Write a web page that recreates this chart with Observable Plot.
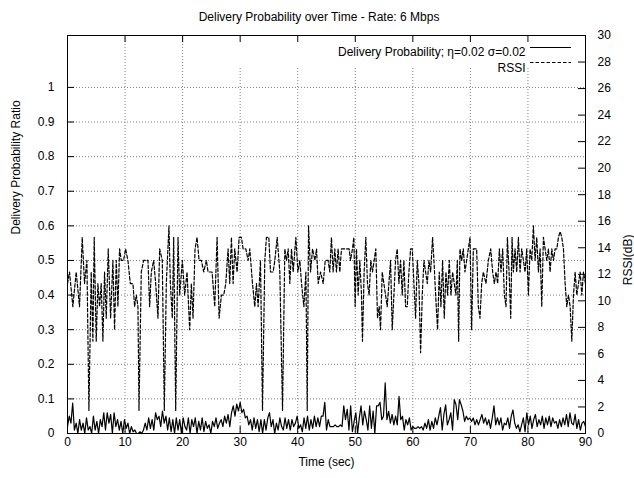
<!DOCTYPE html>
<html><head><meta charset="utf-8">
<script src="https://cdn.jsdelivr.net/npm/d3@7"></script>
<script src="https://cdn.jsdelivr.net/npm/@observablehq/plot@0.6"></script>
<style>
body{margin:0;background:#fff;}
#title{width:630px;height:18px;padding:10px 0 0 4px;font:12px "Liberation Sans",Arial,sans-serif;line-height:14px;text-align:center;color:#000;}
svg{display:block;}
</style></head><body>
<div id="title">Delivery Probability over Time - Rate: 6 Mbps</div>
<div id="chart"></div>
<script>
// ---- data ----
const xTicks = [0,10,20,30,40,50,60,70,80,90];
const yTicks = [0,0.1,0.2,0.3,0.4,0.5,0.6,0.7,0.8,0.9,1];
const yTickLabels = ["0","0.1","0.2","0.3","0.4","0.5","0.6","0.7","0.8","0.9","1"];
const y2Ticks = [0,2,4,6,8,10,12,14,16,18,20,22,24,26,28,30];
const yMax = 1.15;      // left axis top
const y2Max = 30;       // right axis top
const legendLabels = ["Delivery Probability; \u03b7=0.02 \u03c3=0.02", "RSSI"];

// Delivery probability, sampled every 0.3 s from 0 to 90 s
const probStep = 0.3;
const probability = [
0.02,0.05,0.03,0.088,0.01,0.03,0.0,0.04,0.01,0.03,
0.0,0.045,0.01,0.02,0.0,0.05,0.01,0.035,0.0,0.04,
0.02,0.06,0.01,0.06,0.03,0.055,0.0,0.06,0.02,0.04,
0.01,0.035,0.0,0.04,0.015,0.03,0.0,0.02,0.005,0.01,
0.0,0.0,0.005,0.0,0.01,0.03,0.01,0.045,0.015,0.04,
0.01,0.06,0.04,0.05,0.02,0.065,0.03,0.05,0.01,0.045,
0.005,0.04,0.0,0.045,0.01,0.04,0.0,0.045,0.02,0.01,
0.045,0.0,0.04,0.02,0.045,0.0,0.035,0.01,0.045,0.005,
0.035,0.015,0.025,0.0,0.035,0.02,0.045,0.015,0.03,0.04,
0.02,0.05,0.03,0.055,0.02,0.06,0.08,0.05,0.085,0.065,
0.09,0.06,0.07,0.045,0.05,0.025,0.04,0.01,0.045,0.015,
0.04,0.005,0.04,0.0,0.04,0.01,0.045,0.06,0.02,0.04,
0.0,0.03,0.01,0.045,0.02,0.01,0.045,0.015,0.04,0.01,
0.04,0.02,0.03,0.05,0.015,0.025,0.005,0.045,0.015,0.05,
0.01,0.04,0.015,0.05,0.02,0.045,0.02,0.05,0.05,0.09,
0.01,0.04,0.02,0.02,0.02,0.025,0.02,0.02,0.025,0.02,
0.08,0.04,0.07,0.01,0.08,0.005,0.035,0.06,0.0,0.045,
0.08,0.025,0.065,0.04,0.01,0.08,0.015,0.065,0.0,0.08,
0.08,0.09,0.04,0.05,0.146,0.04,0.064,0.03,0.055,0.025,
0.05,0.025,0.107,0.04,0.05,0.01,0.04,0.025,0.045,0.01,
0.02,0.015,0.015,0.02,0.015,0.02,0.01,0.03,0.015,0.04,
0.01,0.035,0.015,0.045,0.025,0.05,0.075,0.01,0.055,0.083,
0.025,0.04,0.06,0.01,0.098,0.083,0.04,0.098,0.083,0.065,
0.035,0.05,0.04,0.045,0.035,0.045,0.025,0.04,0.025,0.04,
0.055,0.03,0.045,0.025,0.04,0.015,0.045,0.08,0.025,0.045,
0.025,0.045,0.01,0.03,0.025,0.045,0.015,0.05,0.068,0.03,
0.015,0.025,0.005,0.025,0.045,0.005,0.06,0.025,0.05,0.015,
0.04,0.055,0.02,0.04,0.025,0.05,0.015,0.045,0.025,0.05,
0.02,0.045,0.03,0.035,0.015,0.04,0.02,0.045,0.025,0.055,
0.02,0.06,0.03,0.025,0.055,0.015,0.04,0.01,0.03,0.035,
0.02];

// RSSI samples: time (s) and level (drawn at level/30 on the left scale, as in the source)
const rssiTime = [
0,0.35,0.93,1.51,2.09,2.56,2.96,3.37,3.72,4.12,4.41,4.64,4.99,5.28,5.57,5.86,6.15,6.44,6.73,7.08,
7.49,7.89,8.18,8.47,8.76,9.05,9.34,9.75,10.09,10.5,10.91,11.37,11.66,11.95,12.24,12.42,12.82,13.23,13.52,13.98,
14.27,14.56,14.97,15.32,15.72,16.01,16.47,16.82,17.17,17.63,17.87,18.21,18.45,18.8,19.2,19.49,19.96,20.36,20.77,21.23,
21.52,21.81,22.16,22.51,22.86,23.26,23.67,24.13,24.42,24.71,25.12,25.58,25.99,26.34,26.74,27.15,27.5,27.9,28.19,28.48,
28.77,29.06,29.47,29.82,30.22,30.51,30.98,31.38,31.67,32.14,32.54,32.83,33.12,33.53,33.88,34.28,34.57,34.98,35.27,35.73,
36.02,36.43,36.89,37.36,37.76,38.05,38.34,38.63,38.92,39.21,39.68,40.03,40.37,40.66,41.07,41.42,41.65,41.88,42.23,42.58,
42.98,43.27,43.56,43.97,44.43,44.78,
45.28,45.57,45.86,46.15,46.44,46.73,47.02,47.31,47.6,47.89,48.93,49.17,49.51,49.75,49.98,50.21,50.5,50.79,51.08,51.25,
51.54,51.83,52.12,52.41,52.7,52.99,53.28,53.57,53.86,54.15,54.39,54.68,54.97,55.26,55.55,55.84,56.13,56.42,56.71,57.0,
57.29,57.58,57.87,58.16,58.45,58.74,59.03,59.32,59.61,59.9,60.19,60.48,60.77,61.06,61.35,61.64,61.93,62.22,62.51,62.8,
63.09,63.43,63.67,63.96,64.3,64.59,64.88,65.17,65.46,65.75,66.04,66.33,66.62,66.91,67.2,67.49,67.73,67.96,68.19,68.48,
68.77,69.06,69.35,69.64,69.93,70.22,70.51,70.8,71.09,71.38,71.67,71.96,72.25,72.71,73.12,73.53,73.87,74.16,74.45,74.74,
75.03,75.32,75.61,75.9,76.19,76.43,76.72,77.01,77.24,77.47,77.76,78.05,78.34,78.63,78.92,79.21,79.5,79.79,80.08,80.37,
80.66,80.95,81.24,81.53,81.82,82.11,82.4,82.69,82.98,83.27,83.56,83.85,84.14,84.43,84.72,85.01,85.3,85.59,85.88,86.17,
86.46,86.75,87.04,87.33,87.62,87.91,88.2,88.49,88.78,89.07,89.36,89.65,90];
const rssiLevel = [
13,14,11,14,11,17,13,15,2,14,8,17,8,13,11,13,8,14,10,16,
10,15,9,15,11,16,15,15,16,15,13,13,11,12,11,2,14,15,15,15,
11,14,15,13,10,16,15,2,13,18,13,10,17,2,17,12,15,12,14,9,
13,10,16,17,15,15,14,15,14,14,14,11,17,10,12,12,13,16,13,17,
13,16,14,17,17,16,16,15,16,13,11,13,11,15,2,15,17,17,14,14,
15,17,14,2,16,15,16,13,16,14,17,14,15,13,11,14,2,18,14,16,
15,16,13,14,13,15,
15,14,17,14,16,14,16,14,16,16,16,15,16,17,11,16,12,15,12,8,
14,17,13,12,15,14,15,16,10,11,9,14,13,12,11,13,15,9,12,15,
16,13,15,12,15,11,11,14,16,16,13,10,15,13,7,12,15,14,13,15,
14,17,15,12,9,14,11,15,10,14,12,15,12,14,13,12,15,8,16,15,
16,14,15,16,17,9,16,16,16,11,10,13,14,13,15,16,14,13,14,13,
16,14,16,12,11,17,14,10,17,14,16,14,17,14,16,15,14,16,12,16,
15,18,15,17,14,16,11,17,16,15,16,14,16,15,16,16,17,17.5,17,16,
13,11,12,11,8,12,14,12,13,14,12,14,13];

// ---- build tables ----
const probData = probability.map((p, i) => ({t: i * probStep, p}));
const rssiData = rssiTime.map((t, i) => ({t, r: rssiLevel[i] / 30}));

const W = 634, H = 450, mL = 67, mR = 49, mT = 7, mB = 45;
const fW = W - mL - mR, fH = H - mT - mB;
const grid = {stroke: "#808080", strokeWidth: 1, strokeDasharray: "1,2"};
const legendBoxBottom = 33; // px below top border covered by the (opaque) key
const keyRow = [12, 27.5];   // key rows, px below the top border

const chart = Plot.plot({
  width: W, height: H,
  marginLeft: mL, marginRight: mR, marginTop: mT, marginBottom: mB,
  x: {domain: [0, 90], axis: null},
  y: {domain: [0, yMax], axis: null},
  style: {fontFamily: "'Liberation Sans', Arial, sans-serif", fontSize: "12px", color: "black", background: "white"},
  marks: [
    // grid
    Plot.ruleY(yTicks.slice(1), {...grid}),
    Plot.ruleX(xTicks.slice(1, -1).filter(d => d < 28), {...grid}),
    Plot.ruleX(xTicks.slice(1, -1).filter(d => d >= 28), {...grid, insetTop: legendBoxBottom}),
    // data
    Plot.line(rssiData, {x: "t", y: "r", stroke: "black", strokeWidth: 1.2, strokeDasharray: "3.5,2"}),
    Plot.line(probData, {x: "t", y: "p", stroke: "black", strokeWidth: 1.2}),
    // ticks (inward)
    Plot.ruleX(xTicks, {stroke: "black", insetTop: fH - 7}),
    Plot.ruleX(xTicks, {stroke: "black", insetBottom: fH - 7}),
    Plot.ruleY(yTicks, {stroke: "black", insetRight: fW - 7}),
    Plot.ruleY(y2Ticks, {y: d => d * yMax / y2Max, stroke: "black", insetLeft: fW - 7}),
    Plot.frame({stroke: "black", strokeWidth: 1}),
    // tick labels
    Plot.text(xTicks, {x: d => d, text: d => String(d), frameAnchor: "bottom", dy: 12}),
    Plot.text(yTicks, {y: d => d, text: (d, i) => yTickLabels[i], frameAnchor: "left", textAnchor: "end", dx: -13}),
    Plot.text(y2Ticks, {y: d => d * yMax / y2Max, text: d => String(d), frameAnchor: "right", textAnchor: "start", dx: 12}),
    // axis titles
    Plot.text(["Time (sec)"], {text: d => d, frameAnchor: "bottom", dy: 32}),
    Plot.text(["Delivery Probability Ratio"], {text: d => d, frameAnchor: "left", dx: -51, rotate: -90}),
    Plot.text(["RSSI(dB)"], {text: d => d, frameAnchor: "right", dx: 43, rotate: -90}),
    // key
    Plot.text([legendLabels[0]], {text: d => d, frameAnchor: "top-right", textAnchor: "end", dx: -60, dy: keyRow[0]}),
    Plot.text([legendLabels[1]], {text: d => d, frameAnchor: "top-right", textAnchor: "end", dx: -60, dy: keyRow[1]})
  ]
});

// key line samples
const svg = d3.select(chart);
const keyX1 = mL + fW - 55, keyX2 = mL + fW - 14;
[["none", mT + keyRow[0] + 0.5], ["3.5,2", mT + keyRow[1]]].forEach(([dash, y]) => {
  svg.append("line").attr("x1", keyX1).attr("x2", keyX2).attr("y1", y).attr("y2", y)
    .attr("stroke", "black").attr("stroke-width", 1).attr("stroke-dasharray", dash);
});
document.getElementById("chart").appendChild(chart);
</script>
</body></html>
